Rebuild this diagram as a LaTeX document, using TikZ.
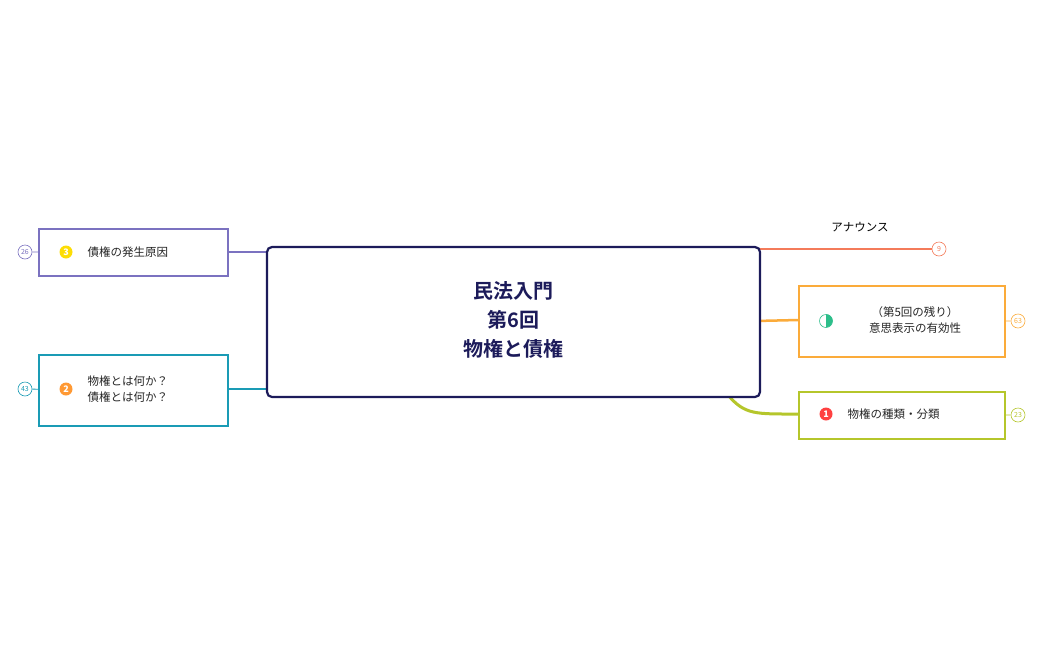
\documentclass[tikz,border=0pt]{standalone}
\usepackage{fontspec}
\setmainfont{Noto Sans CJK JP}
\newfontfamily\jpb{Noto Sans CJK JP Bold}
\definecolor{navy}{HTML}{1C1B5A}
\definecolor{cpur}{HTML}{7B72C0}
\definecolor{cteal}{HTML}{1A9BB5}
\definecolor{cred}{HTML}{F47B5A}
\definecolor{corg}{HTML}{FBAB3A}
\definecolor{cgrn}{HTML}{B5C62B}
\definecolor{cpie}{HTML}{2DBE8A}
\begin{document}
\begin{tikzpicture}[x=1pt,y=-1pt,
  topic/.style={draw=#1,line width=2.2pt,fill=white,inner sep=0pt},
  cnt/.style={draw=#1,circle,line width=0.6pt,inner sep=0pt,minimum size=14pt,font=\fontsize{7}{7}\selectfont,text=#1,fill=white},
  lbl/.style={font=\fontsize{11.5}{16}\selectfont,align=left,text=black!85},
  badge/.style={circle,fill=#1,inner sep=0pt,minimum size=13pt,text=white,font=\fontsize{9}{9}\selectfont\bfseries}]
\useasboundingbox (0,0) rectangle (1043,645);
% connectors
\draw[cpur,line width=2.5pt] (228,252) -- (270,252);
\draw[cteal,line width=2.5pt] (228,389) -- (270,389);
\draw[cred,line width=2.5pt] (755,249) -- (932,249);
\draw[corg,line width=2.5pt] (755,321) -- (799,320);
\draw[cgrn,line width=3pt] (728,395) .. controls (745,415) and (755,414) .. (799,414);
% central
\node[draw=navy,line width=2.2pt,rounded corners=5pt,fill=white,minimum width=493pt,minimum height=150pt,inner sep=0pt] (c) at (513.5,322) {};
\node[font=\jpb\fontsize{20}{29}\selectfont,text=navy,align=center] (ct) at (513.5,320) {民法入門\\第6回\\物権と債権};
% box 3
\node[topic=cpur,minimum width=189pt,minimum height=47pt] (b3) at (133.5,252.5) {};
\node[badge={yellow!80!orange}] (i3) at (66,252) {3};
\node[lbl,anchor=west] (t3) at (84,252) {債権の発生原因};
\node[cnt=cpur] (n3) at (25,252) {26};
\draw[cpur,line width=0.8pt] (n3) -- (b3);
% box 2
\node[topic=cteal,minimum width=189pt,minimum height=71pt] (b2) at (133.5,390.5) {};
\node[badge={orange!80}] (i2) at (66,389) {2};
\node[lbl,anchor=west] (t2) at (84,389) {物権とは何か？\\債権とは何か？};
\node[cnt=cteal] (n2) at (25,389) {43};
\draw[cteal,line width=0.8pt] (n2) -- (b2);
% announce
\node[font=\fontsize{11.5}{14}\selectfont] (ta) at (860,227) {アナウンス};
\node[cnt=cred] (na) at (939,249) {9};
% orange box
\node[topic=corg,minimum width=206pt,minimum height=71pt] (bo) at (902,321.5) {};
\node[circle,draw=cpie,line width=0.6pt,minimum size=13pt,inner sep=0pt] (io) at (826,321) {};
\fill[cpie] (io.center) -- (io.north) arc[start angle=90,end angle=-90,radius=6.5pt] -- cycle;
\node[lbl,align=center] (to) at (915,320) {（第5回の残り）\\意思表示の有効性};
\node[cnt=corg] (no) at (1018,321) {63};
\draw[corg,line width=0.8pt] (bo) -- (no);
% green box
\node[topic=cgrn,minimum width=206pt,minimum height=47pt] (bg) at (902,415.5) {};
\node[badge={red!75}] (ig) at (826,414) {1};
\node[lbl,anchor=west] (tg) at (844,414) {物権の種類・分類};
\node[cnt=cgrn] (ng) at (1018,415) {23};
\draw[cgrn,line width=0.8pt] (bg) -- (ng);
\end{tikzpicture}
\end{document}
